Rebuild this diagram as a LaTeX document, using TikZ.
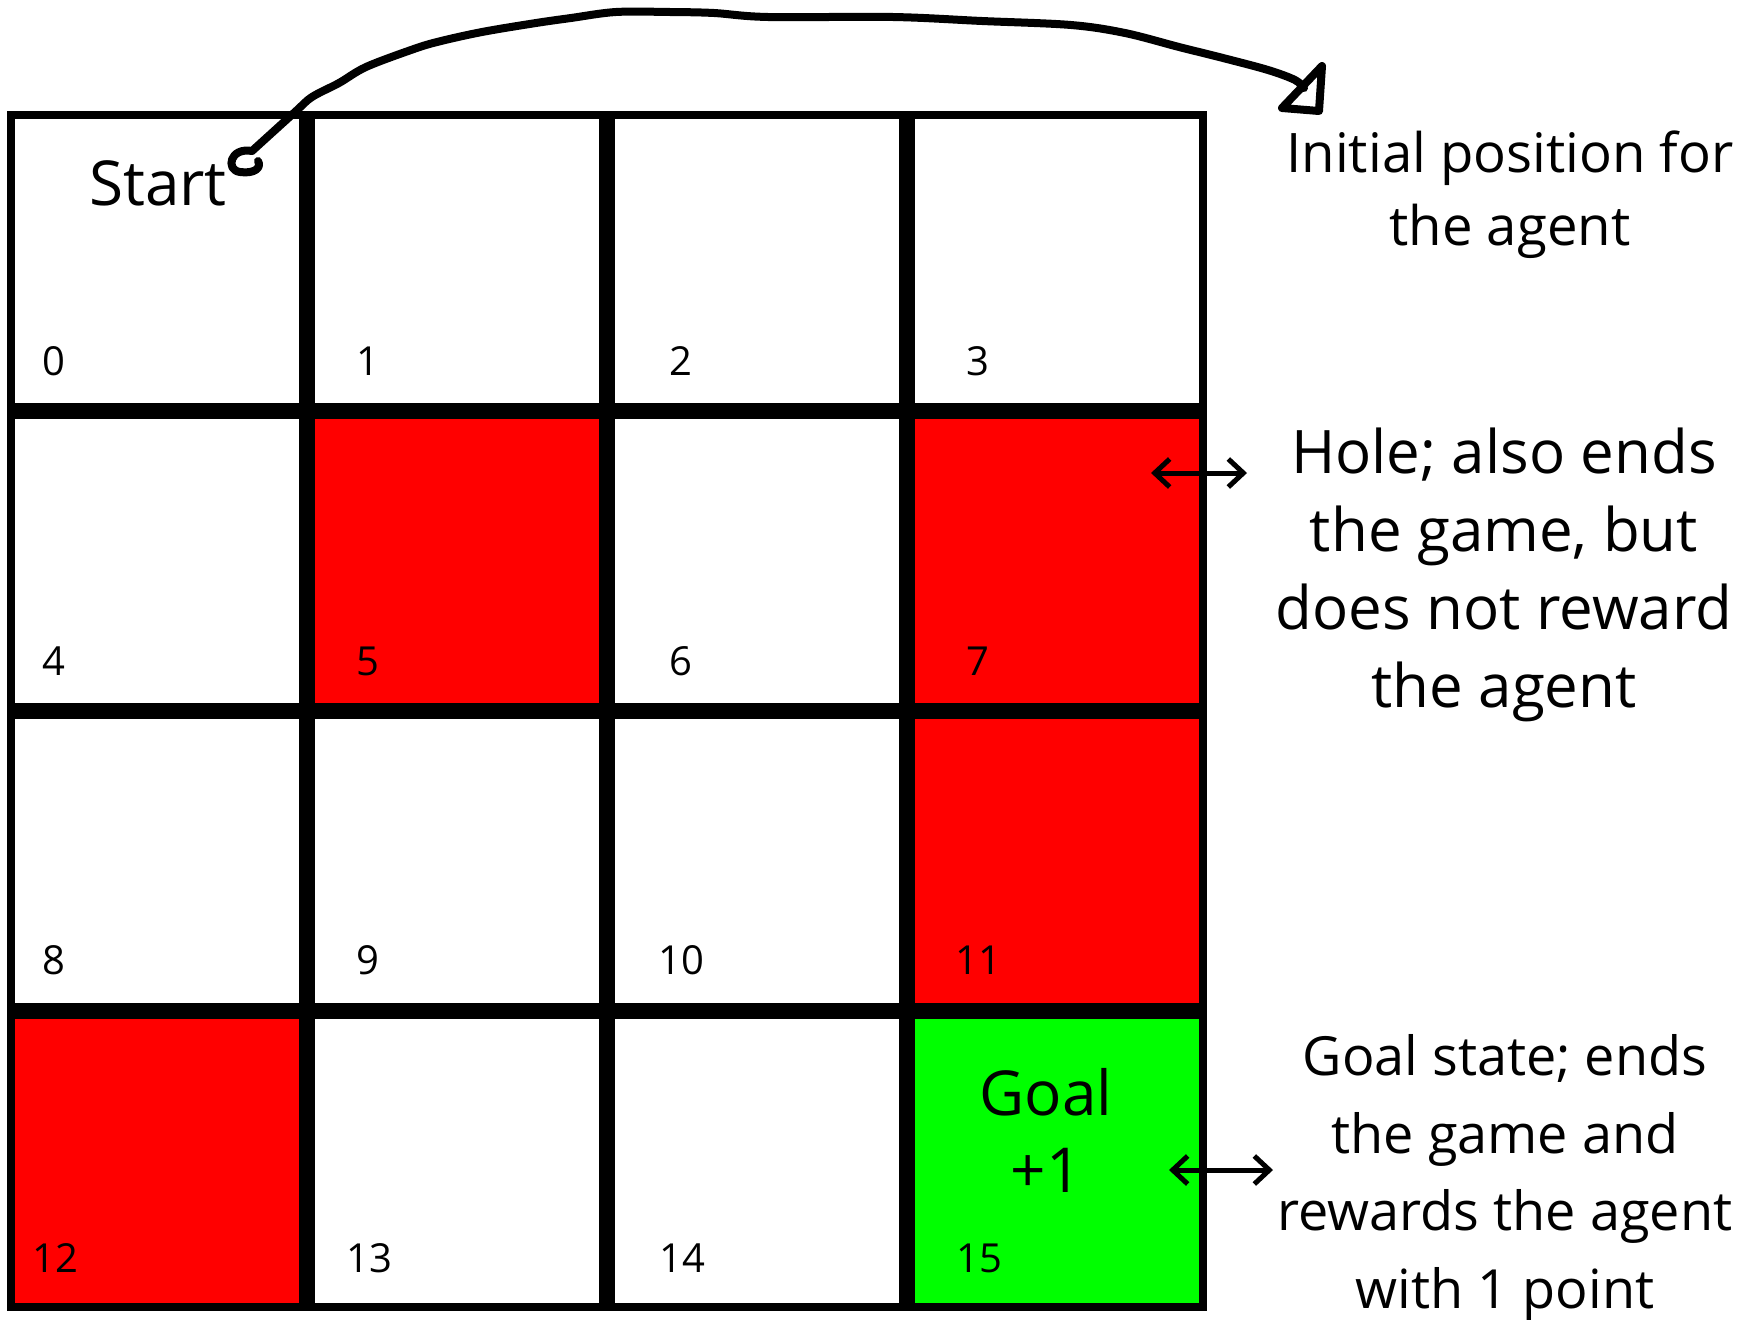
\documentclass[tikz,border=0pt]{standalone}
\usepackage{fontspec}
\setmainfont{Open Sans}
\usetikzlibrary{arrows.meta}
\definecolor{holered}{HTML}{FF0000}
\definecolor{goalgreen}{HTML}{00FF00}
\begin{document}
\begin{tikzpicture}[x=1pt,y=-1pt,
  cell/.style={draw=black, line width=8pt, minimum size=292pt, inner sep=0pt, outer sep=0pt, fill=white},
  holecell/.style={cell, fill=holered},
  goalcell/.style={cell, fill=goalgreen},
  num/.style={anchor=base, inner sep=0pt, font=\fontsize{40}{48}\selectfont},
  bigtxt/.style={anchor=base, inner sep=0pt, font=\fontsize{62}{78}\selectfont},
  note/.style={anchor=base, inner sep=0pt},
  pointer/.style={line width=5pt, {Straight Barb[length=15pt,width=28pt]}-{Straight Barb[length=15pt,width=28pt]}},
  hand/.style={line width=8pt, line cap=round, line join=round}
]
\useasboundingbox[fill=white] (0,0) rectangle (1749,1320);

% grid cells
\node[cell]     (c0)  at (157,261)  {};
\node[cell]     (c1)  at (457,261)  {};
\node[cell]     (c2)  at (757,261)  {};
\node[cell]     (c3)  at (1057,261) {};
\node[cell]     (c4)  at (157,561)  {};
\node[holecell] (c5)  at (457,561)  {};
\node[cell]     (c6)  at (757,561)  {};
\node[holecell] (c7)  at (1057,561) {};
\node[cell]     (c8)  at (157,861)  {};
\node[cell]     (c9)  at (457,861)  {};
\node[cell]     (c10) at (757,861)  {};
\node[holecell] (c11) at (1057,861) {};
\node[holecell] (c12) at (157,1161) {};
\node[cell]     (c13) at (457,1161) {};
\node[cell]     (c14) at (757,1161) {};
\node[goalcell] (c15) at (1057,1161) {};

% cell numbers
\node[num] (n0)  at (54,375)   {0};
\node[num] (n1)  at (368,375)  {1};
\node[num] (n2)  at (681,375)  {2};
\node[num] (n3)  at (978,375)  {3};
\node[num] (n4)  at (54,675)   {4};
\node[num] (n5)  at (368,675)  {5};
\node[num] (n6)  at (681,675)  {6};
\node[num] (n7)  at (978,675)  {7};
\node[num] (n8)  at (54,974)   {8};
\node[num] (n9)  at (368,974)  {9};
\node[num] (n10) at (681,974)  {10};
\node[num] (n11) at (978,974)  {11};
\node[num] (n12) at (55,1272)  {12};
\node[num] (n13) at (369,1272) {13};
\node[num] (n14) at (682,1272) {14};
\node[num] (n15) at (979,1272) {15};

% labels in cells
\node[bigtxt] (start) at (158,205) {Start};
\node[bigtxt] (goal1) at (1046,1115) {Goal};
\node[bigtxt] (goal2) at (1046,1192) {+1};

% right-hand notes
\begin{scope}[every node/.style={note, font=\fontsize{54.5}{73}\selectfont}]
\node (init1) at (1510,172) {Initial position for};
\node (init2) at (1510,245) {the agent};
\end{scope}
\begin{scope}[every node/.style={note, font=\fontsize{60}{78}\selectfont}]
\node (hole1) at (1504,473) {Hole; also ends};
\node (hole2) at (1504,551) {the game, but};
\node (hole3) at (1504,629) {does not reward};
\node (hole4) at (1504,707) {the agent};
\end{scope}
\begin{scope}[every node/.style={note, font=\fontsize{54}{78}\selectfont}]
\node (gs1) at (1505,1075) {Goal state; ends};
\node (gs2) at (1505,1153) {the game and};
\node (gs3) at (1505,1230) {rewards the agent};
\node (gs4) at (1505,1308) {with 1 point};
\end{scope}

% double arrows
\coordinate (holeA) at (1151,473);
\coordinate (holeB) at (1247,473);
\draw[pointer] (holeA) -- (holeB);
\coordinate (goalA) at (1169,1170);
\coordinate (goalB) at (1273,1170);
\draw[pointer] (goalA) -- (goalB);

% hand-drawn curved arrow
\coordinate (startEnd) at (252,151);
\coordinate (initEnd) at (1304,88);
\draw[hand] plot[smooth, tension=0.55] coordinates {(startEnd) (295,112) (312,97) (339,83) (366,67) (411,50) (437,42) (482,32) (536,23) (571,18) (616,12) (670,12) (714,13) (768,17) (893,17) (982,21) (1071,25) (1125,33) (1179,47) (1223,58) (1268,70) (1295,80) (initEnd)};
% hook at the Start end
\draw[hand] (startEnd) .. controls (230,147) and (225,170) .. (240,172) .. controls (254,174) and (262,168) .. (258,161);
% triangle head at the right end
\draw[hand] (1322,66) -- (1282,108) -- (1319,111) -- cycle;
\end{tikzpicture}
\end{document}
